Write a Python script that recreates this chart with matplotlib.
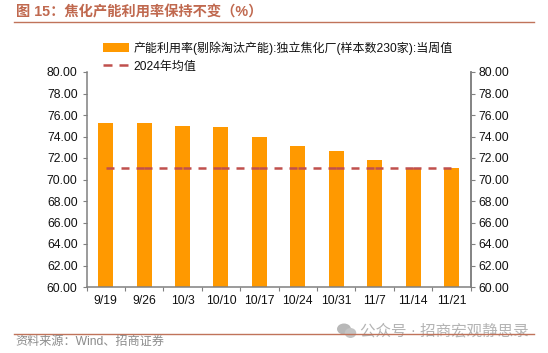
import matplotlib
matplotlib.use('Agg')
import matplotlib.pyplot as plt
from matplotlib.lines import Line2D
from matplotlib.patches import Ellipse, Patch

plt.rcParams['font.family'] = ['Liberation Sans', 'Noto Sans CJK SC', 'DejaVu Sans']

categories = ['9/19', '9/26', '10/3', '10/10', '10/17', '10/24', '10/31', '11/7', '11/14', '11/21']
utilization = [75.25, 75.25, 75.0, 74.9, 73.95, 73.1, 72.65, 71.8, 71.1, 71.1]
avg_2024 = [71.07] * 10
yticks = [60 + 2 * i for i in range(11)]
bar_label = '产能利用率(剔除淘汰产能):独立焦化厂(样本数230家):当周值'
line_label = '2024年均值'
title = '图 15\uff1a焦化产能利用率保持不变\uff08%\uff09'
source = '资料来源\uff1aWind\u3001招商证券'
watermark = '公众号 · 招商宏观静思录'

W, H = 548, 353
fig = plt.figure(figsize=(W / 100, H / 100), dpi=100)
L, R, T, B = 86.5, 470.7, 72, 287
ax = fig.add_axes([L / W, 1 - B / H, (R - L) / W, (B - T) / H])
x = list(range(len(categories)))
ax.bar(x, utilization, width=0.39, color='#FF9900', zorder=2)
# The original restarts its dash pattern at every data point.
for i in range(len(x) - 1):
    ax.plot(x[i:i + 2], avg_2024[i:i + 2], color='#C0504D', lw=1.8, dashes=(3.2, 2.8),
            dash_capstyle='butt', zorder=3)
ax.set_xlim(-0.5, 9.5)
ax.set_ylim(60, 80)
ax.set_yticks(yticks)
ax.set_yticklabels([f'{v:.2f}' for v in yticks], fontsize=8.7, color='#111111')
ax.set_xticks([i - 0.5 for i in range(11)])
ax.set_xticklabels([])
ax.set_xticks(x, minor=True)
ax.set_xticklabels(categories, minor=True, fontsize=8.7, color='#111111')
ax.tick_params(axis='x', which='minor', length=0, pad=6)
ax.tick_params(axis='x', which='major', length=3.2, color='#808080', direction='out')
ax.tick_params(axis='y', length=3.2, color='#808080', pad=3.2)
ax.spines['top'].set_visible(False)
for s in ['left', 'right', 'bottom']:
    ax.spines[s].set_color('#808080')
    ax.spines[s].set_linewidth(1.1)
ax2 = ax.twinx()
ax2.set_ylim(60, 80)
ax2.set_yticks(yticks)
ax2.set_yticklabels([f'{v:.2f}' for v in yticks], fontsize=8.7, color='#111111')
ax2.tick_params(axis='y', length=3.2, color='#808080', pad=2.4)
ax2.spines['top'].set_visible(False)
ax2.spines['right'].set_color('#808080')
ax2.spines['right'].set_linewidth(1.1)
ax2.spines['left'].set_visible(False)
ax2.spines['bottom'].set_visible(False)

h_bar = Patch(color='#FF9900', lw=0)
h_line = Line2D([], [], color='#C0504D', lw=1.8, dashes=(3.6, 2.8), dash_capstyle='butt')
fig.legend(handles=[h_bar, h_line], labels=[bar_label, line_label], loc='upper left',
           bbox_to_anchor=(103 / W, 1 - 41 / H), frameon=False, fontsize=8.62, labelspacing=0.5,
           handlelength=2.18, handletextpad=0.34, borderpad=0, borderaxespad=0,
           labelcolor='#111111')

fig.text(15.5 / W, 1 - 12 / H, title, fontsize=10.3, color='#C0694F', fontweight='bold', va='center', ha='left')
fig.add_artist(Line2D([14 / W, 534 / W], [1 - 22.4 / H] * 2, color='#C0735A', lw=1.0))
fig.add_artist(Line2D([14 / W, 534 / W], [1 - 333.5 / H] * 2, color='#C0735A', lw=1.0))
fig.text(15 / W, 1 - 341.7 / H, source, fontsize=8.7, color='#8C8C8C', va='center', ha='left')
overlay = fig.add_axes([0, 0, 1, 1], facecolor='none')
overlay.set_xlim(0, W)
overlay.set_ylim(H, 0)
overlay.axis('off')
overlay.add_patch(Ellipse((344, 329), 14, 11, color='#B8B8B8', lw=0))
overlay.add_patch(Ellipse((350.5, 333), 11.5, 10, color='#C4C4C4', lw=0))
overlay.text(360, 331, watermark, fontsize=11.2, color='#B4B4B4', va='center', ha='left')
fig.savefig('out.png', dpi=100)
